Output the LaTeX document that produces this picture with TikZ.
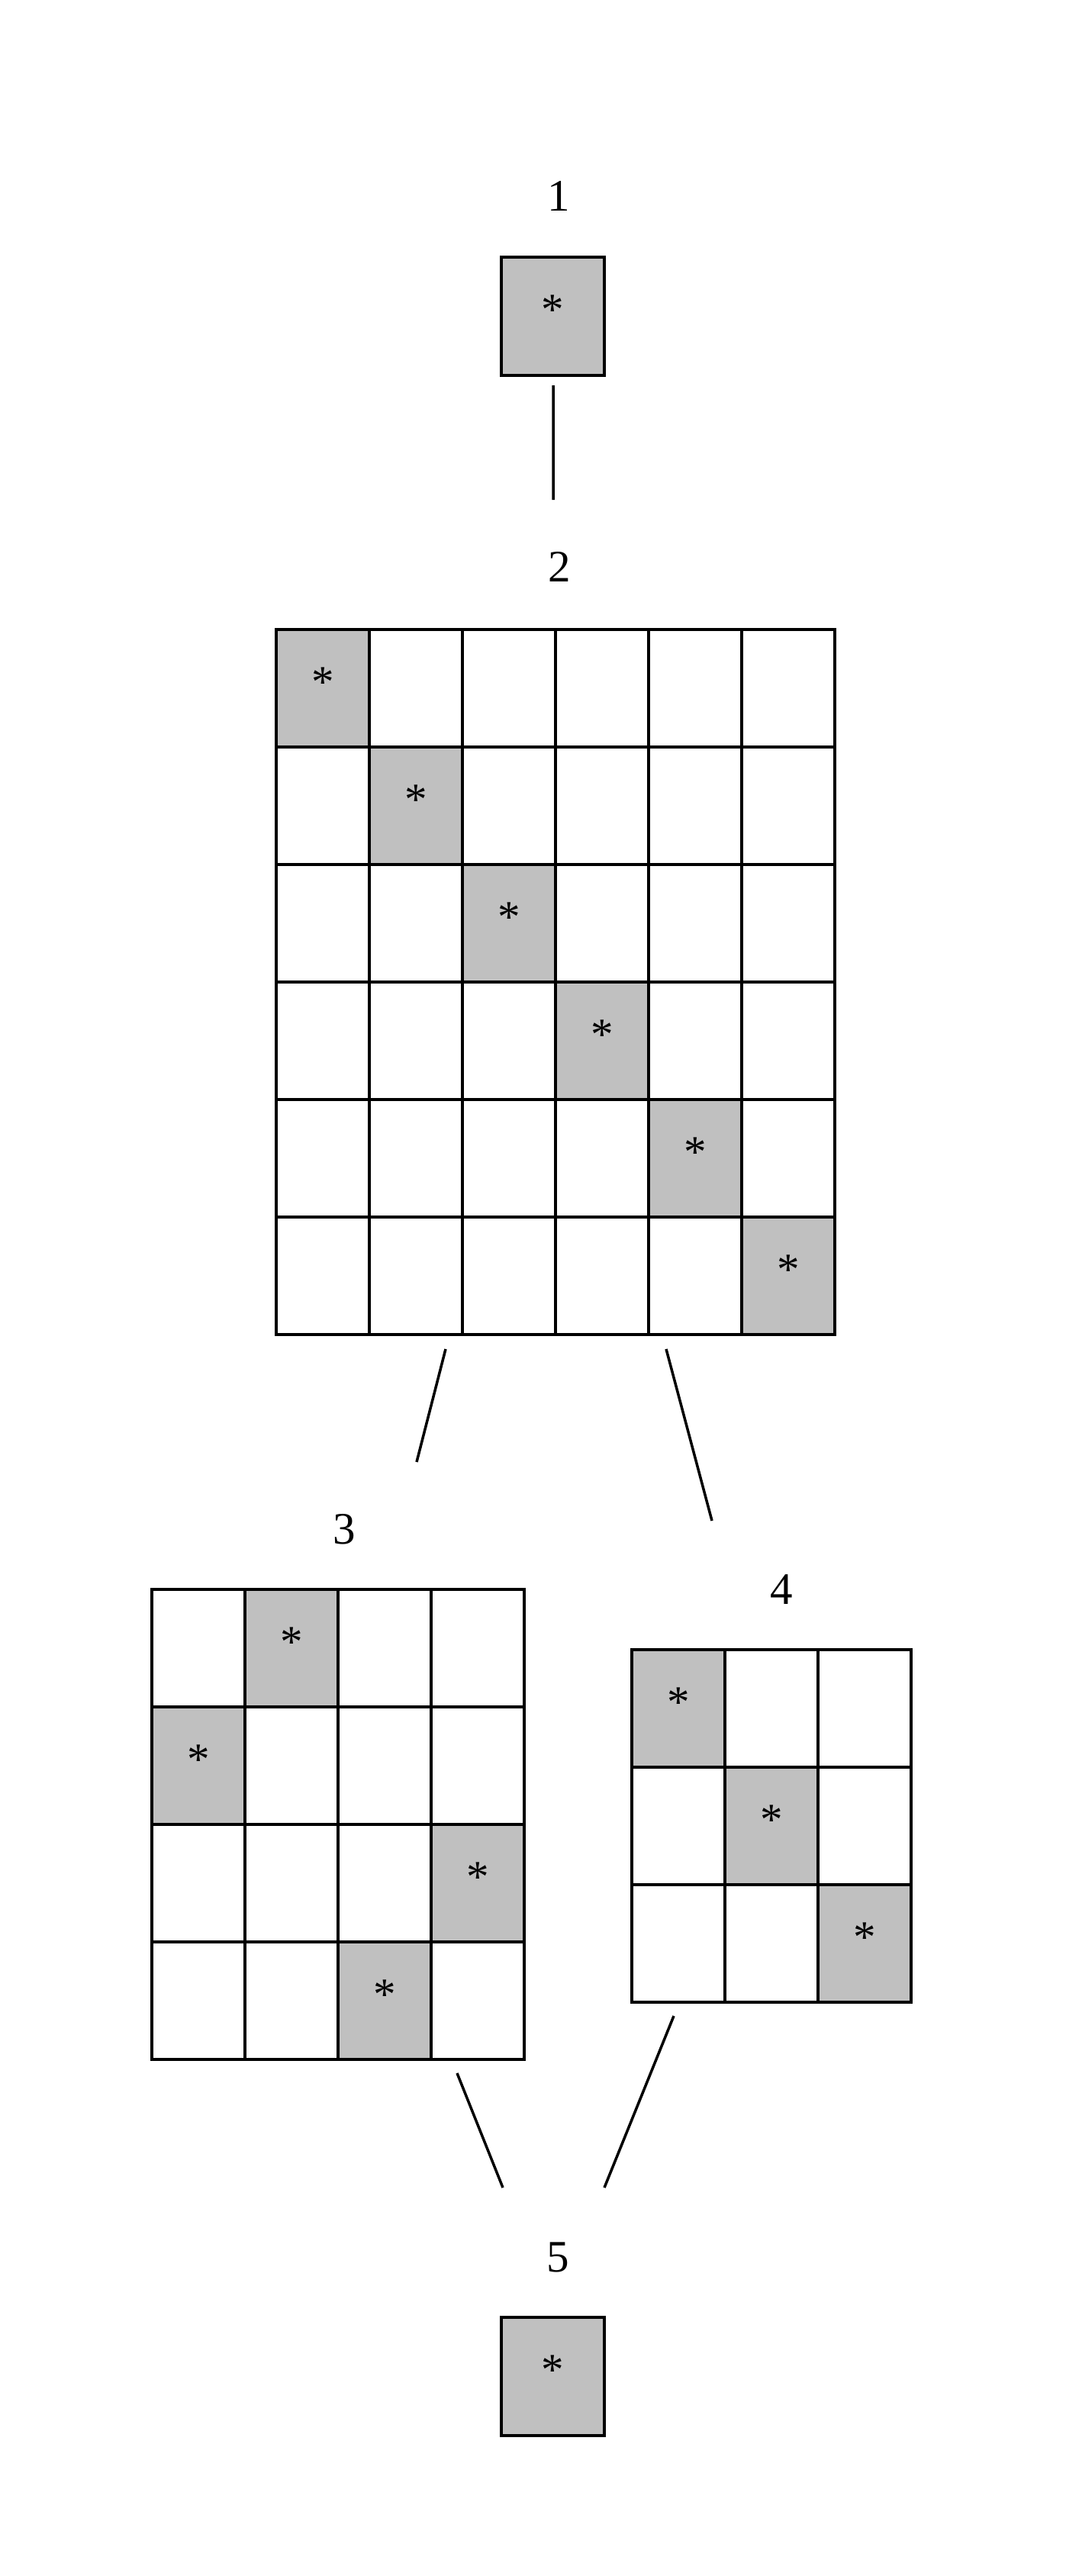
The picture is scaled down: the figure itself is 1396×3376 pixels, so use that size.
\documentclass[tikz,border=0pt]{standalone}
\usepackage{fontspec}
\setmainfont{Liberation Serif}
\usepackage{tikz}
\usepackage{xcolor}
\definecolor{cellgray}{HTML}{C0C0C0}
\newcommand{\astr}{\raisebox{9pt}{*}}
\tikzset{
  cell/.style={draw, line width=2pt, minimum width=2.44cm, minimum height=3.08cm, inner sep=0pt, font=\fontsize{33.6}{40}\selectfont},
  hit/.style={cell, fill=cellgray},
  single/.style={hit, minimum width=2.7cm, minimum height=3.1cm},
  lbl/.style={anchor=base, inner sep=0pt, font=\fontsize{33.6}{40}\selectfont},
  link/.style={line width=2pt}
}

\begin{document}
\begin{tikzpicture}[x=0.02cm, y=-0.02cm]
    \useasboundingbox (0,0) rectangle (1396,3376);

    % level 1
    \node[lbl] (n1) at (732,277) {1};
    \node[single] (b1) at (724.5,414.5) {\astr};

    % level 2
    \node[lbl] (n2) at (733,762) {2};
    \foreach \r in {1,...,6}
      \foreach \c in {1,...,6}
        \node[cell] (g2-\r-\c) at ({423+122*(\c-1)},{902+154*(\r-1)}) {};
    \foreach \r/\c in {1/1,2/2,3/3,4/4,5/5,6/6}
      \node[hit] at (g2-\r-\c) {\astr};

    % level 3
    \node[lbl] (n3) at (451,2023) {3};
    \foreach \r in {1,...,4}
      \foreach \c in {1,...,4}
        \node[cell] (g3-\r-\c) at ({260+122*(\c-1)},{2160+154*(\r-1)}) {};
    \foreach \r/\c in {1/2,2/1,3/4,4/3}
      \node[hit] at (g3-\r-\c) {\astr};

    % level 4
    \node[lbl] (n4) at (1024,2102) {4};
    \foreach \r in {1,...,3}
      \foreach \c in {1,...,3}
        \node[cell] (g4-\r-\c) at ({889+122*(\c-1)},{2239+154*(\r-1)}) {};
    \foreach \r/\c in {1/1,2/2,3/3}
      \node[hit] at (g4-\r-\c) {\astr};

    % level 5
    \node[lbl] (n5) at (731,2977) {5};
    \node[single] (b5) at (724.5,3114.5) {\astr};

    % links
    \coordinate (l12a) at (725,505);  \coordinate (l12b) at (725,655);
    \coordinate (l23a) at (584,1768); \coordinate (l23b) at (546,1916);
    \coordinate (l24a) at (873,1768); \coordinate (l24b) at (933,1993);
    \coordinate (l35a) at (599,2717); \coordinate (l35b) at (659,2867);
    \coordinate (l45a) at (883,2642); \coordinate (l45b) at (792,2867);
    \draw[link]
    (l12a) -- (l12b)
    (l23a) -- (l23b)
    (l24a) -- (l24b)
    (l35a) -- (l35b)
    (l45a) -- (l45b)
    ;

\end{tikzpicture}
\end{document}
